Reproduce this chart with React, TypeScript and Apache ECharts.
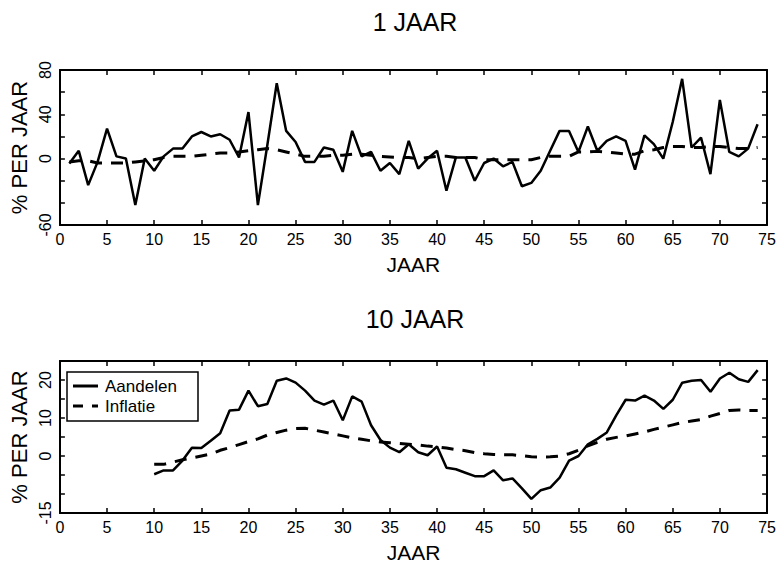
import React, { useEffect, useRef } from "react";
import * as echarts from "echarts";

const years1 = [1,2,3,4,5,6,7,8,9,10,11,12,13,14,15,16,17,18,19,20,21,22,23,24,25,26,27,28,29,30,31,32,33,34,35,36,37,38,39,40,41,42,43,44,45,46,47,48,49,50,51,52,53,54,55,56,57,58,59,60,61,62,63,64,65,66,67,68,69,70,71,72,73,74];
const stocks1 = [-4.5,7,-24,-3,27,2,0,-42,0,-11,2,9,9,20,24,20,22,17,1,42,-42,12,68,25,15,-3,-3,10,8,-12,25,2,6,-11,-4,-14,16,-9,0,7,-29,1,1,-20,-4,0,-7,-3,-25,-22,-11,7,25,25,6,29,7,16,20,16,-10,21,13,0,33,72,10,19,-14,53,6,2,9,31];
const inflation1 = [-3,-2,-2,-4,-4,-4,-4,-3,-2,-1,1,2,2,2,3,4,5,5,6,7,8,9,8,6,4,2,2,2,3,3,4,4,3,2,1.5,1,1,0,1,2,2,1,1,1,-1,-1,-1,-1,-1,-1,1,2,2,2,6,6,6.5,6,5,4,4,7,8,10,11,11,10,10,11,11,10,9,9,10];

const years10 = [10,11,12,13,14,15,16,17,18,19,20,21,22,23,24,25,26,27,28,29,30,31,32,33,34,35,36,37,38,39,40,41,42,43,44,45,46,47,48,49,50,51,52,53,54,55,56,57,58,59,60,61,62,63,64,65,66,67,68,69,70,71,72,73,74];
const stocks10 = [-4.8,-3.8,-3.8,-1.2,2.2,2.1,4,6,12,12.2,17.2,13.1,13.7,19.8,20.4,19.3,17.2,14.6,13.5,14.6,9.4,15.7,14.3,8.1,4.2,2.2,1.0,3.1,1.0,0.2,2.5,-3.1,-3.5,-4.4,-5.3,-5.3,-3.8,-6.4,-5.9,-8.5,-11.3,-9,-8.3,-5.7,-1.2,0,3.1,4.5,6.2,10.7,14.8,14.6,15.9,14.6,12.4,14.8,19.3,19.8,20.0,16.9,20.4,21.9,20.2,19.5,22.6];
const inflation10 = [-2.2,-2.2,-1.6,-1.0,-0.5,0,0.5,1.5,2.2,3,3.8,4.5,5.5,6.2,6.8,7.2,7.3,6.8,6.3,5.8,5.3,4.8,4.4,4.0,3.7,3.5,3.3,3.1,2.9,2.6,2.4,2.1,1.7,1.4,0.9,0.6,0.4,0.3,0.3,0.1,-0.2,-0.3,-0.2,0,0.6,1.5,2.7,3.6,4.4,4.9,5.3,5.8,6.3,7.0,7.6,8.2,8.8,9.2,9.6,10.5,11.2,12.0,12.1,12.0,12.0];

const titles = ["1 JAAR", "10 JAAR"];
const seriesNames = ["Aandelen", "Inflatie"];
const xName = "JAAR";
const yName = "% PER JAAR";
const yLabels1 = [80, 40, 0, -60];
const yLabels2 = [20, 10, 0, -15];

const FONT = "Liberation Sans";

export default function App() {
  const ref = useRef<HTMLDivElement>(null);
  useEffect(() => {
    if (!ref.current) return;
    const chart = echarts.init(ref.current, null, { renderer: "svg" });
    const black = "#000";
    const axisLine = { show: true, onZero: false, lineStyle: { color: black, width: 2 } };
    const tick = { show: true, inside: true, length: 5, lineStyle: { color: black, width: 1.5 } };
    const mkX = (grid: number, pos: "bottom" | "top") => ({
      type: "value",
      gridIndex: grid,
      position: pos,
      min: 0,
      max: 75,
      interval: 5,
      axisLine,
      axisTick: tick,
      splitLine: { show: false },
      axisLabel: pos === "bottom"
        ? { show: true, color: black, fontSize: 16, fontFamily: FONT, margin: 6 }
        : { show: false },
      name: pos === "bottom" ? xName : "",
      nameLocation: "middle",
      nameGap: 29,
      nameTextStyle: { color: black, fontSize: 21, fontFamily: FONT },
    });
    const mkY = (grid: number, pos: "left" | "right", min: number, max: number, interval: number, labels: number[]) => ({
      type: "value",
      gridIndex: grid,
      position: pos,
      min,
      max,
      interval,
      axisLine,
      axisTick: tick,
      splitLine: { show: false },
      axisLabel: pos === "left"
        ? {
            show: true,
            rotate: 90,
            color: black,
            fontSize: 16,
            fontFamily: FONT,
            margin: 6,
            formatter: (v: number) => (labels.includes(v) ? String(v) : ""),
          }
        : { show: false },
      name: pos === "left" ? yName : "",
      nameLocation: "middle",
      nameGap: 28,
      nameTextStyle: { color: black, fontSize: 22, fontFamily: FONT },
    });
    const solid = { color: black, width: 2.5, type: "solid" };
    const dashed = { color: black, width: 3, type: [12, 9] };
    chart.setOption({
      animation: false,
      backgroundColor: "#fff",
      textStyle: { fontFamily: FONT },
      grid: [
        { left: 57, top: 70, width: 710, height: 155 },
        { left: 57, top: 361, width: 711, height: 154 },
      ],
      xAxis: [mkX(0, "bottom"), mkX(0, "top"), mkX(1, "bottom"), mkX(1, "top")],
      yAxis: [
        mkY(0, "left", -60, 80, 20, yLabels1),
        mkY(0, "right", -60, 80, 20, yLabels1),
        mkY(1, "left", -15, 25, 5, yLabels2),
        mkY(1, "right", -15, 25, 5, yLabels2),
      ],
      graphic: [
        { type: "text", x: 415, y: 22, style: { text: titles[0], fill: black, font: `25px "${FONT}"`, textAlign: "center", textVerticalAlign: "middle" } },
        { type: "text", x: 415, y: 319, style: { text: titles[1], fill: black, font: `25px "${FONT}"`, textAlign: "center", textVerticalAlign: "middle" } },
        { type: "rect", shape: { x: 67, y: 372, width: 131, height: 49 }, style: { fill: "#fff", stroke: black, lineWidth: 1.5 }, z: 100 },
        { type: "line", shape: { x1: 73, y1: 386, x2: 98, y2: 386 }, style: { stroke: black, lineWidth: 3 }, z: 101 },
        { type: "line", shape: { x1: 73, y1: 406, x2: 98, y2: 406 }, style: { stroke: black, lineWidth: 3, lineDash: [10, 9] }, z: 101 },
        { type: "text", x: 105, y: 386, style: { text: seriesNames[0], fill: black, font: `17px "${FONT}"`, textAlign: "left", textVerticalAlign: "middle" }, z: 101 },
        { type: "text", x: 105, y: 406, style: { text: seriesNames[1], fill: black, font: `17px "${FONT}"`, textAlign: "left", textVerticalAlign: "middle" }, z: 101 },
      ],
      series: [
        { name: seriesNames[0], type: "line", xAxisIndex: 0, yAxisIndex: 0, symbol: "none", lineStyle: solid, itemStyle: { color: black }, data: years1.map((y, i) => [y, stocks1[i]]) },
        { name: seriesNames[1], type: "line", xAxisIndex: 0, yAxisIndex: 0, symbol: "none", lineStyle: dashed, itemStyle: { color: black }, data: years1.map((y, i) => [y, inflation1[i]]) },
        { name: seriesNames[0], type: "line", xAxisIndex: 2, yAxisIndex: 2, symbol: "none", lineStyle: solid, itemStyle: { color: black }, data: years10.map((y, i) => [y, stocks10[i]]) },
        { name: seriesNames[1], type: "line", xAxisIndex: 2, yAxisIndex: 2, symbol: "none", lineStyle: dashed, itemStyle: { color: black }, data: years10.map((y, i) => [y, inflation10[i]]) },
      ],
    });
    return () => chart.dispose();
  }, []);
  return (
    <div
      ref={ref}
      style={{ position: "fixed", left: 0, top: 0, width: 779, height: 564, background: "#fff" }}
    />
  );
}
